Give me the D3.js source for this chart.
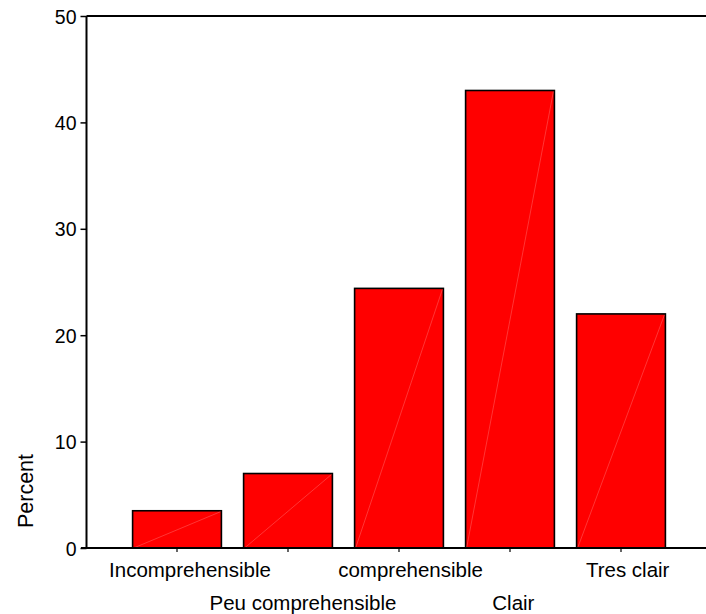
<!DOCTYPE html>
<html>
<head>
<meta charset="utf-8">
<script src="https://cdn.jsdelivr.net/npm/d3@7/dist/d3.min.js"></script>
<style>
  html, body { margin: 0; padding: 0; background: #fff; }
  svg { display: block; }
  text { font-family: "Liberation Sans", Arial, Helvetica, sans-serif; fill: #000; }
</style>
</head>
<body>
<svg id="chart" width="706" height="614"></svg>
<script>
const categories = ["Incomprehensible", "Peu comprehensible", "comprehensible", "Clair", "Tres clair"];
const percents = [3.5, 7.0, 24.4, 43.0, 22.0];
const yTicks = [0, 10, 20, 30, 40, 50];
const yLabel = "Percent";

(function () {
const svg = d3.select("#chart");
const axisX = 86.5, plotTop = 16, plotBottom = 548, plotRight = 706;

const x = d3.scaleBand().domain(categories).range([121.5, 676.5])
  .paddingInner(0.2).paddingOuter(0.1);
const y = d3.scaleLinear().domain([0, 50]).range([plotBottom, plotTop]);

// bars
const bars = svg.append("g");
categories.forEach((c, i) => {
  const x0 = x(c), x1 = x(c) + x.bandwidth();
  const y0 = y(0), y1 = y(percents[i]);
  bars.append("rect")
    .attr("x", x0).attr("y", y1)
    .attr("width", x.bandwidth()).attr("height", y0 - y1)
    .attr("fill", "#ff0000").attr("stroke", "#000").attr("stroke-width", 1.6);
  bars.append("line")
    .attr("x1", x0 + 1).attr("y1", y0).attr("x2", x1 - 1).attr("y2", y1 + 1)
    .attr("stroke", "#ff8080").attr("stroke-width", 0.6).attr("opacity", 0.7);
});

// top border line
svg.append("line").attr("x1", axisX).attr("x2", plotRight).attr("y1", plotTop).attr("y2", plotTop)
  .attr("stroke", "#000").attr("stroke-width", 2);

// y axis
const yAxis = d3.axisLeft(y).tickValues(yTicks).tickSize(6).tickPadding(4).tickFormat(d3.format("d"));
const gy = svg.append("g").attr("transform", `translate(${axisX},0)`).call(yAxis);
gy.select(".domain").remove();
gy.append("line").attr("x1", 0).attr("x2", 0).attr("y1", plotTop).attr("y2", plotBottom)
  .attr("stroke", "#000").attr("stroke-width", 2);
gy.selectAll(".tick line").attr("stroke", "#000").attr("stroke-width", 1.5);
gy.selectAll(".tick text").attr("font-size", 19.5).attr("font-family", "Liberation Sans, Arial, sans-serif")
  .attr("fill", "#000").attr("dy", "0.36em");

// x axis
const xAxis = d3.axisBottom(x).tickSize(4).tickFormat("");
const gx = svg.append("g").attr("transform", `translate(0,${plotBottom})`).call(xAxis);
gx.select(".domain").remove();
gx.append("line").attr("x1", 81).attr("x2", plotRight).attr("y1", 0).attr("y2", 0)
  .attr("stroke", "#000").attr("stroke-width", 2);
gx.selectAll(".tick line").attr("stroke", "#000").attr("stroke-width", 1.2);

// x labels, alternating rows
const labels = svg.append("g");
categories.forEach((c, i) => {
  const cx = x(c) + x.bandwidth() / 2;
  const t = labels.append("text")
    .attr("y", i % 2 === 0 ? 576.5 : 609.5)
    .attr("font-size", 20.5)
    .attr("text-anchor", "start")
    .text(c);
  const w = t.node().getComputedTextLength();
  t.attr("x", cx - w * 0.42);
});

// y label
svg.append("text")
  .attr("transform", `translate(33,${491}) rotate(-90)`)
  .attr("text-anchor", "middle")
  .attr("font-size", 21.5)
  .text(yLabel);
})();
</script>
</body>
</html>
